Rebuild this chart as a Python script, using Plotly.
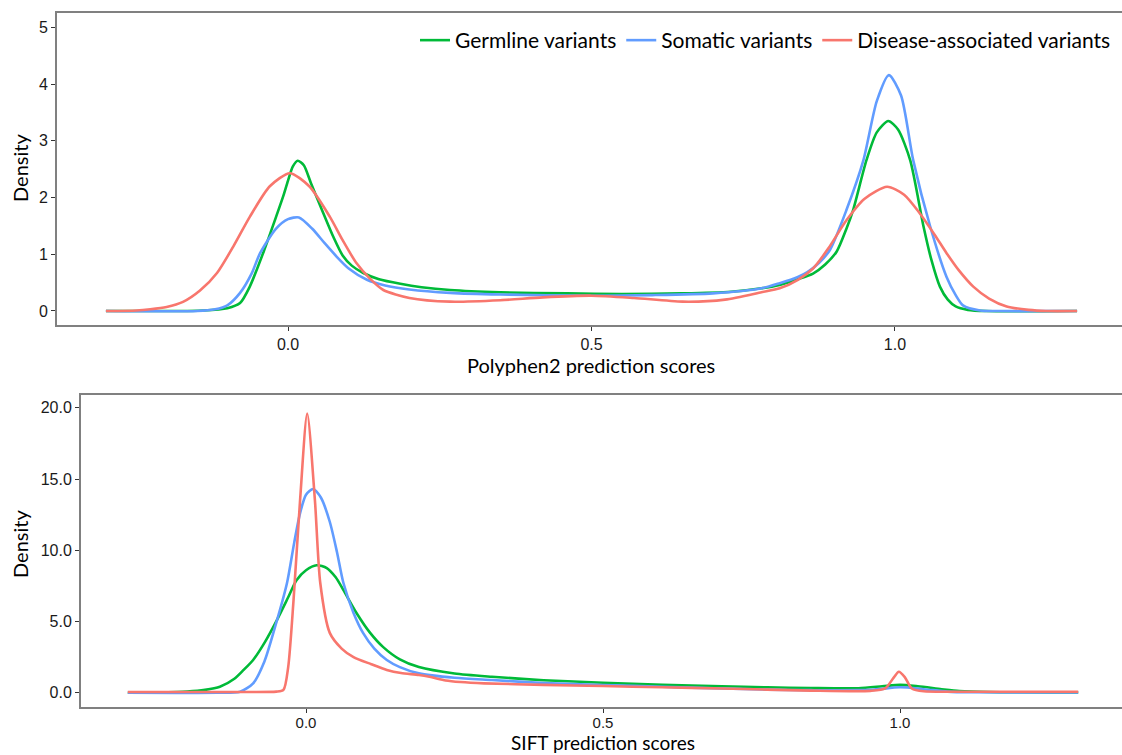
import plotly.graph_objects as go

# ---------------- data ----------------
series_names = ["Germline variants", "Somatic variants", "Disease-associated variants"]
series_colors = ["#00BA38", "#619CFF", "#F8766D"]

# Top panel: Polyphen2 prediction score densities
pp_germ_x = [-0.30, -0.20, -0.14, -0.10, -0.079, -0.063, -0.04, -0.02, -0.008, 0.0, 0.008, 0.016, 0.026,
             0.038, 0.058, 0.075, 0.09, 0.105, 0.124, 0.15, 0.185, 0.22, 0.267, 0.35, 0.46, 0.55, 0.65,
             0.73, 0.78, 0.81, 0.84, 0.865, 0.885, 0.904, 0.92, 0.931, 0.953, 0.97, 0.989, 1.005, 1.025,
             1.047, 1.06, 1.074, 1.087, 1.10, 1.12, 1.15, 1.30]
pp_germ_y = [0.0, 0.0, 0.01, 0.05, 0.14, 0.43, 1.05, 1.65, 2.02, 2.3, 2.55, 2.65, 2.57,
             2.25, 1.73, 1.3, 0.98, 0.8, 0.67, 0.56, 0.48, 0.42, 0.37, 0.33, 0.31, 0.30, 0.31,
             0.34, 0.40, 0.46, 0.56, 0.66, 0.82, 1.05, 1.45, 1.78, 2.66, 3.15, 3.35, 3.2, 2.66,
             1.49, 0.9, 0.43, 0.2, 0.08, 0.02, 0.0, 0.0]

pp_som_x = [-0.30, -0.15, -0.12, -0.10, -0.079, -0.06, -0.046, -0.02, 0.0, 0.018, 0.04, 0.06, 0.08, 0.10,
            0.13, 0.16, 0.20, 0.267, 0.35, 0.50, 0.60, 0.70, 0.78, 0.81, 0.84, 0.855, 0.875, 0.893, 0.92,
            0.948, 0.97, 0.99, 1.01, 1.03, 1.058, 1.085, 1.10, 1.112, 1.14, 1.17, 1.30]
pp_som_y = [0.0, 0.0, 0.03, 0.1, 0.32, 0.66, 1.02, 1.45, 1.62, 1.65, 1.45, 1.2, 0.96, 0.75,
            0.55, 0.45, 0.38, 0.32, 0.29, 0.27, 0.28, 0.31, 0.40, 0.49, 0.6, 0.68, 0.85, 1.08, 1.78,
            2.66, 3.7, 4.16, 3.8, 2.66, 1.49, 0.6, 0.28, 0.1, 0.01, 0.0, 0.0]

pp_dis_x = [-0.30, -0.25, -0.227, -0.20, -0.173, -0.145, -0.117, -0.09, -0.063, -0.03, 0.003, 0.035, 0.069,
            0.09, 0.113, 0.135, 0.157, 0.20, 0.267, 0.35, 0.42, 0.50, 0.57, 0.65, 0.72, 0.78, 0.81, 0.84,
            0.865, 0.89, 0.92, 0.95, 0.987, 1.015, 1.041, 1.065, 1.085, 1.105, 1.129, 1.155, 1.184, 1.22,
            1.25, 1.30]
pp_dis_y = [0.0, 0.01, 0.03, 0.07, 0.16, 0.36, 0.67, 1.14, 1.66, 2.2, 2.43, 2.2, 1.66,
            1.25, 0.84, 0.57, 0.37, 0.23, 0.165, 0.19, 0.24, 0.27, 0.23, 0.165, 0.2, 0.33, 0.4, 0.55,
            0.75, 1.1, 1.6, 1.98, 2.19, 2.05, 1.72, 1.35, 1.02, 0.72, 0.43, 0.22, 0.08, 0.02,
            0.0, 0.0]

# Bottom panel: SIFT prediction score densities
sf_germ_x = [-0.30, -0.25, -0.20, -0.17, -0.145, -0.12, -0.105, -0.089, -0.07, -0.049, -0.03, -0.016, 0.0,
             0.018, 0.035, 0.05, 0.063, 0.085, 0.108, 0.13, 0.158, 0.19, 0.25, 0.313, 0.40, 0.50, 0.60,
             0.70, 0.776, 0.85, 0.93, 0.97, 1.0, 1.03, 1.07, 1.10, 1.15, 1.30]
sf_germ_y = [0.0, 0.02, 0.08, 0.2, 0.42, 1.0, 1.6, 2.3, 3.5, 5.1, 6.7, 7.9, 8.6,
             8.95, 8.75, 8.1, 7.2, 5.6, 4.2, 3.2, 2.34, 1.8, 1.35, 1.12, 0.88, 0.7, 0.55,
             0.45, 0.38, 0.33, 0.32, 0.45, 0.55, 0.45, 0.25, 0.12, 0.05, 0.02]

sf_som_x = [-0.30, -0.15, -0.111, -0.089, -0.07, -0.055, -0.032, -0.02, -0.01, 0.0, 0.012, 0.025, 0.04,
            0.052, 0.063, 0.08, 0.096, 0.115, 0.136, 0.158, 0.19, 0.25, 0.313, 0.40, 0.50, 0.60, 0.70,
            0.776, 0.85, 0.95, 1.0, 1.04, 1.08, 1.12, 1.30]
sf_som_y = [0.0, 0.0, 0.07, 0.66, 2.2, 4.2, 7.7, 10.5, 12.6, 13.9, 14.3, 13.7, 12.0,
            9.9, 7.7, 5.6, 4.2, 3.1, 2.3, 1.8, 1.36, 1.05, 0.89, 0.68, 0.54, 0.42, 0.3,
            0.22, 0.18, 0.2, 0.38, 0.25, 0.08, 0.03, 0.02]

sf_dis_x = [-0.30, -0.10, -0.05, -0.038, -0.03, -0.021, -0.01, 0.002, 0.015, 0.024, 0.04, 0.06, 0.08,
            0.11, 0.136, 0.16, 0.19, 0.21, 0.235, 0.26, 0.30, 0.40, 0.50, 0.60, 0.70, 0.776, 0.85, 0.95,
            0.975, 0.99, 0.998, 1.008, 1.02, 1.04, 1.10, 1.30]
sf_dis_y = [0.05, 0.05, 0.08, 0.2, 1.8, 6.5, 13.5, 19.6, 13.5, 7.7, 4.2, 3.1, 2.5,
            2.0, 1.6, 1.38, 1.25, 1.1, 0.86, 0.75, 0.66, 0.55, 0.47, 0.38, 0.3, 0.22, 0.15, 0.13,
            0.3, 1.1, 1.47, 1.1, 0.3, 0.1, 0.07, 0.07]

x_tick_vals = [0.0, 0.5, 1.0]
x_tick_text = ["0.0", "0.5", "1.0"]
top_y_ticks = [0, 1, 2, 3, 4, 5]
bottom_y_ticks = [0.0, 5.0, 10.0, 15.0, 20.0]
bottom_y_text = ["0.0", "5.0", "10.0", "15.0", "20.0"]

top_series = [(pp_germ_x, pp_germ_y), (pp_som_x, pp_som_y), (pp_dis_x, pp_dis_y)]
bottom_series = [(sf_germ_x, sf_germ_y), (sf_som_x, sf_som_y), (sf_dis_x, sf_dis_y)]

# ---------------- figure ----------------
W, H = 1122, 755
fig = go.Figure()

for (xs, ys), name, col in zip(top_series, series_names, series_colors):
    fig.add_trace(go.Scatter(x=xs, y=ys, mode="lines", name=name,
                             line=dict(color=col, width=2.6, shape="spline", smoothing=0.7),
                             xaxis="x", yaxis="y", showlegend=True))
for (xs, ys), name, col in zip(bottom_series, series_names, series_colors):
    fig.add_trace(go.Scatter(x=xs, y=ys, mode="lines", name=name,
                             line=dict(color=col, width=2.6, shape="spline", smoothing=0.7),
                             xaxis="x2", yaxis="y2", showlegend=False))

tick_font = dict(family="Liberation Sans, Arial, sans-serif", size=16, color="#1a1a1a")
title_font = dict(family="Lato, sans-serif", size=20, color="#000000")
bottom_title_font = dict(family="Lato, sans-serif", size=19, color="#000000")
axis_line = dict(showline=True, linecolor="#808080", linewidth=2, ticks="outside",
                 ticklen=4, tickwidth=1.2, tickcolor="#333333", showgrid=False, zeroline=False,
                 automargin=False)

def px_x(p):
    return p / W

def px_y(p):
    return 1 - p / H

fig.update_layout(
    width=W, height=H,
    margin=dict(l=0, r=0, t=0, b=0),
    paper_bgcolor="white", plot_bgcolor="white",
    xaxis=dict(domain=[px_x(57), 1.0], range=[-0.3806, 1.374], anchor="y", tickfont=tick_font,
               tickvals=x_tick_vals, ticktext=x_tick_text, mirror=True, **axis_line),
    yaxis=dict(domain=[px_y(325), px_y(12.7)], range=[-0.247, 5.26], anchor="x", tickfont=tick_font,
               tickvals=top_y_ticks, **axis_line),
    xaxis2=dict(domain=[px_x(81), 1.0], range=[-0.3788, 1.3737], anchor="y2",
                tickfont=dict(family="Liberation Sans, Arial, sans-serif", size=15, color="#1a1a1a"),
                tickvals=x_tick_vals, ticktext=x_tick_text, mirror=True,
                ticklabelstandoff=-3, **axis_line),
    yaxis2=dict(domain=[px_y(706.7), px_y(394.5)], range=[-0.98, 20.93], anchor="x2", tickfont=tick_font,
                tickvals=bottom_y_ticks, ticktext=bottom_y_text, **axis_line),
    legend=dict(orientation="h", x=px_x(1116), xanchor="right", y=px_y(20), yanchor="top",
                font=dict(family="Lato, sans-serif", size=21, color="#000000"),
                bgcolor="rgba(0,0,0,0)", itemwidth=30, tracegroupgap=0),
    annotations=[
        dict(text="Density", x=px_x(20), y=px_y(168), xref="paper", yref="paper",
             textangle=-90, showarrow=False, font=title_font, xanchor="center", yanchor="middle"),
        dict(text="Density", x=px_x(20), y=px_y(544), xref="paper", yref="paper",
             textangle=-90, showarrow=False, font=title_font, xanchor="center", yanchor="middle"),
        dict(text="Polyphen2 prediction scores", x=px_x(591), y=px_y(365), xref="paper", yref="paper",
             showarrow=False, font=title_font, xanchor="center", yanchor="middle"),
        dict(text="SIFT prediction scores", x=px_x(603), y=px_y(755), xref="paper", yref="paper",
             showarrow=False, font=bottom_title_font, xanchor="center", yanchor="bottom", borderpad=0),
    ],
)

fig.write_html("out.html", config={"displayModeBar": False},
               post_script="document.body.style.margin='0';document.body.style.overflow='hidden';")
